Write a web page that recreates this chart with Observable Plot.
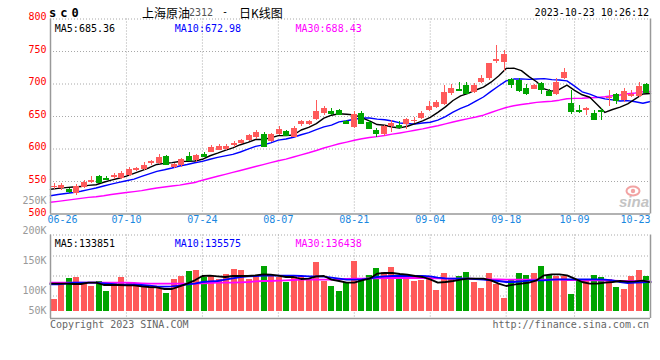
<!DOCTYPE html>
<html><head><meta charset="utf-8">
<script src="https://cdn.jsdelivr.net/npm/d3@7"></script>
<script src="https://cdn.jsdelivr.net/npm/@observablehq/plot@0.6"></script>
<style>
html,body{margin:0;padding:0;background:#fff;}
#wrap{position:relative;width:660px;height:360px;overflow:hidden;font-family:"DejaVu Sans Mono",monospace;}
#wrap svg{position:absolute;left:0;}
.t{position:absolute;white-space:pre;line-height:1;}
</style></head><body><div id="wrap"></div>
<script>
// ---- data ----
const tickIndex  = [0, 10, 20, 30, 40, 50, 60, 69, 79];
const tickLabels = ["06-26","07-10","07-24","08-07","08-21","09-04","09-18","10-09","10-23"];
const priceTicks = [800, 750, 700, 650, 600, 550, 500];
const volTicks   = [250000, 200000, 150000, 100000, 50000];
const priceLegend = ["MA5:685.36", "MA10:672.98", "MA30:688.43"];
const volLegend   = ["MA5:133851", "MA10:135575", "MA30:136438"];

const open  = [543,539,537,532,541,549,557,555,556,555,559,567,568,577,578,589,572,574,589,583,592,595,598,600,606,608,613,617,623,612,622,627,618,637,638,646,654,657,659,642,633,655,641,628,622,635,636,637,644,647,659,664,668,685,692,698,687,703,709,735,733,707,706,693,692,701,689,684,708,670,659,659,655,660,677,684,675,681,681,699];
const high  = [547,547,539,546,551,557,559,558,562,565,571,572,579,582,591,590,577,586,595,592,594,605,607,607,611,615,622,628,625,624,634,629,634,644,644,674,666,662,661,644,657,657,644,632,636,644,642,647,648,658,673,674,697,700,703,702,701,713,732,760,751,709,708,700,700,702,691,709,724,690,667,664,660,662,690,685,693,690,702,701];
const low   = [537,536,532,529,539,547,547,551,553,553,558,565,567,575,576,575,570,572,581,580,587,594,597,598,603,607,612,615,603,610,621,620,617,634,636,644,652,651,651,637,631,639,631,617,620,626,631,630,639,645,657,663,667,682,688,684,686,701,705,731,720,693,687,683,691,684,681,683,707,653,654,651,644,644,666,669,671,679,680,686];
const close = [543,544,534,542,548,552,549,553,559,562,568,570,575,581,587,576,576,584,582,590,589,603,604,604,609,613,621,626,604,622,630,621,631,642,643,658,663,654,653,639,653,640,632,624,634,639,633,645,644,655,666,672,687,693,690,686,698,709,731,737,745,700,690,685,697,691,682,703,718,657,657,663,646,658,680,675,688,684,696,687];

const ma5  = [538,539.5,540.5,541.5,542.2,544.0,545.0,548.8,552.2,555.0,558.2,562.4,566.8,571.2,576.2,577.8,579.0,580.8,581.0,581.6,584.2,589.6,593.6,598.0,601.8,606.6,610.2,614.6,614.6,617.2,620.6,620.6,621.6,629.2,633.4,639.0,647.4,652.0,654.2,653.4,652.4,647.8,643.4,637.6,636.6,633.8,632.4,635.0,639.0,643.2,648.6,656.4,664.8,674.6,681.6,685.6,690.8,695.2,702.8,712.2,724.0,724.4,720.6,711.4,703.4,692.6,689.0,691.6,698.2,690.2,683.4,679.6,668.2,656.2,660.8,664.4,669.4,677.0,684.6,685.4];
const ma10 = [528,530,531.5,533,535,537.5,540,543,546,548.6,551.1,553.7,557.8,561.7,565.6,568.0,570.7,573.8,576.1,578.9,581.0,584.3,587.2,589.5,591.7,595.4,599.9,604.1,606.3,609.5,613.6,615.4,618.1,621.9,625.3,629.8,634.0,636.8,641.7,643.4,645.7,647.6,647.7,645.9,645.0,643.1,640.1,639.2,638.3,639.9,641.2,644.4,649.9,656.8,662.4,667.1,673.6,680.0,688.7,696.9,704.8,707.6,707.9,707.1,707.8,708.3,706.7,706.1,704.8,696.8,688.0,684.3,679.9,677.2,675.5,673.9,674.5,672.6,670.4,673.0];
const ma30 = [518,519.5,521,522.5,524,525.5,526.5,528,530,531.5,533,534.5,536,538,540,541.5,543,544.5,546.5,548.5,552,555,558,561,564,567,570,573,576,579.0,581.9,584.5,587.7,591.0,594.2,597.7,601.5,604.9,608.0,610.6,613.4,615.8,617.7,619.1,620.7,622.8,624.7,626.7,628.8,630.9,633.5,635.8,638.6,641.5,644.2,646.7,649.2,652.0,656.2,660.1,663.9,666.5,668.5,669.9,671.7,672.8,673.5,675.1,677.3,677.9,678.0,678.8,679.2,680.4,681.9,683.1,684.9,686.2,688.0,688.4];

const volume = [92000,131000,144000,146000,135000,124000,137500,112000,132500,147000,134000,126000,122000,122500,120000,107000,142000,150000,162000,164000,147500,150000,142000,154000,167000,164000,142000,152000,174000,152000,147000,134000,150000,150000,142500,184000,137000,124000,112000,135000,187000,143000,152000,169000,158000,172000,142000,152000,137500,139000,149000,114000,157000,143000,150000,159000,134000,119000,157000,129000,94000,142000,157000,152000,157000,174000,152000,150000,148000,104000,142000,137000,152000,147000,142000,122000,117000,150000,164000,149000];
const vma5  = [130800,130800,130800,130000,130000,133300,133300,127500,127500,127500,126700,126700,124200,122500,121700,117500,117500,124200,130800,139200,150000,150800,149200,147500,150000,150000,150000,151700,154200,153300,150800,147500,147500,142500,143300,149200,150000,140800,137500,133300,133300,139200,143300,155800,157500,157500,155000,153300,150000,147500,141700,133300,135000,137500,140800,143300,143300,143300,139200,130800,125000,128300,130800,133300,139200,151700,154200,154200,151700,143300,135000,130800,130800,133300,135000,137500,135800,136700,138300,133900];
const vma10 = [129200,129200,130800,133300,133300,133300,133300,131700,130000,128300,128300,128300,127500,125800,124200,123300,124200,125800,129200,130800,135000,136700,137500,140800,144200,147500,149200,150000,150800,150800,150800,150800,150800,150000,149200,149200,148300,145800,143300,140800,140800,141700,143300,147500,149200,150000,150000,150000,150000,150000,149200,145800,144200,143300,143300,143300,142500,140800,139200,137500,135000,135000,136700,138300,139200,139200,140800,141700,141700,141700,141700,141700,141700,140800,139200,135000,132500,133300,134200,135600];
const vma30 = [133300,133300,133300,133300,133300,133300,133300,133300,133300,133300,133300,132500,131700,131000,130800,130800,130800,130800,130800,130800,131700,132500,133300,133300,133300,134200,135000,136700,137500,137500,138300,139200,140000,140800,140800,140800,140800,140800,141700,142500,143300,143300,144200,144200,145000,145000,145000,145000,145000,145000,144200,144200,143300,143300,143300,143300,142500,142500,141700,141700,140800,140800,140800,140800,140800,140800,140800,140800,140000,140000,139200,139200,139200,138300,138300,137500,137500,137500,136700,136400];

// ---- styling / layout ----
const RED = "#ff5a5a", GREEN = "#00a400", GRID = "#a8a8a8", BORDER = "#999999";
const MA_COLORS = ["#000000", "#0000ff", "#ff00ff"];
const LEGEND_DX = [4.3, 124.3, 245];
const N = close.length;
const gx = i => i * N / (N - 1);          // grid / MA point position
const volDomain = [43750, 252500];
const volBase = 62000;

const candles = close.map((c, i) => ({i, o: open[i], h: high[i], l: low[i], c, col: c >= open[i] ? RED : GREEN}));
const vols = volume.map((v, i) => ({i, v, col: candles[i].col}));
const gridIdx = tickIndex.slice(1, -1);

const common = {
  width: 660, marginLeft: 50, marginRight: 10,
  style: {background: "transparent", overflow: "visible", fontFamily: "'DejaVu Sans Mono', monospace", fontSize: "10px"},
  x: {domain: [0, N], axis: null},
  color: {type: "identity"}
};
const dotted = {stroke: GRID, strokeDasharray: "1,2"};
const DATE_COLOR = "#1a88e0";

const legendMarks = (labels, dy) => labels.map((t, k) =>
  Plot.text([t], {frameAnchor: "top-left", dx: LEGEND_DX[k], dy, text: d => d, textAnchor: "start", fill: MA_COLORS[k]}));

const pricePlot = Plot.plot({
  ...common,
  height: 228, marginTop: 18.5, marginBottom: 14.5,
  y: {domain: [500, 800], axis: null},
  marks: [
    Plot.ruleY(priceTicks.filter(v => v > 500), dotted),
    Plot.ruleX(gridIdx, {x: gx, ...dotted}),
    Plot.line(ma30, {x: (d, i) => gx(i), y: d => d, stroke: MA_COLORS[2], strokeWidth: 1.4}),
    Plot.line(ma10, {x: (d, i) => gx(i), y: d => d, stroke: MA_COLORS[1], strokeWidth: 1.4}),
    Plot.line(ma5,  {x: (d, i) => gx(i), y: d => d, stroke: MA_COLORS[0], strokeWidth: 1.4}),
    Plot.ruleX(candles, {x: d => d.i + 0.5, y1: "l", y2: "h", stroke: "col", shapeRendering: "crispEdges"}),
    Plot.rect(candles, {x1: d => d.i + 0.1, x2: d => d.i + 0.9, y1: "o", y2: "c", fill: "col", shapeRendering: "crispEdges"}),
    Plot.ruleY(candles, {x1: d => d.i + 0.1, x2: d => d.i + 0.9, y: "c", stroke: "col", shapeRendering: "crispEdges"}),
    Plot.ruleX([0, N], {stroke: BORDER, strokeWidth: 1.5}),
    Plot.ruleY([500], {stroke: BORDER, strokeWidth: 1.5}),
    Plot.text(priceTicks.filter(v => v > 500), {y: d => d, text: d => String(d), frameAnchor: "left", dx: -4, dy: -2, textAnchor: "end", fill: "#ff0000"}),
    Plot.text([500], {y: d => d, text: d => String(d), frameAnchor: "left", dx: -4, dy: -1, textAnchor: "end", fill: "#ff0000"}),
    Plot.text(tickIndex.slice(0, 1), {x: gx, text: () => tickLabels[0], frameAnchor: "bottom", dy: 9, dx: -3, textAnchor: "start", fill: DATE_COLOR}),
    Plot.text(tickIndex.slice(1, -1), {x: gx, text: (d, k) => tickLabels[k + 1], frameAnchor: "bottom", dy: 9, fill: DATE_COLOR}),
    Plot.text(tickIndex.slice(-1), {x: gx, text: () => tickLabels[tickLabels.length - 1], frameAnchor: "bottom", dy: 9, textAnchor: "end", fill: DATE_COLOR}),
    ...legendMarks(priceLegend, 5.5)
  ]
});

const volPlot = Plot.plot({
  ...common,
  height: 132, marginTop: 6.5, marginBottom: 42,
  y: {domain: volDomain, axis: null},
  marks: [
    Plot.ruleY([100000, 150000, 200000, volDomain[1]], dotted),
    Plot.ruleX(gridIdx, {x: gx, ...dotted}),
    Plot.rect(vols, {x1: d => d.i + 0.1, x2: d => d.i + 0.9, y1: volBase, y2: "v", fill: "col", shapeRendering: "crispEdges"}),
    Plot.line(vma30, {x: (d, i) => gx(i), y: d => d, stroke: MA_COLORS[2], strokeWidth: 1.8}),
    Plot.line(vma10, {x: (d, i) => gx(i), y: d => d, stroke: MA_COLORS[1], strokeWidth: 1.8}),
    Plot.line(vma5,  {x: (d, i) => gx(i), y: d => d, stroke: MA_COLORS[0], strokeWidth: 1.8}),
    Plot.ruleX([0, N], {stroke: BORDER, strokeWidth: 1.5}),
    Plot.ruleY([volDomain[0]], {stroke: BORDER, strokeWidth: 1.5}),
    Plot.text(volTicks, {y: d => Math.max(d * 1.5 - 37500, volBase), text: d => d / 1000 + "K", frameAnchor: "left", dx: -4, textAnchor: "end", fill: "#999999"}),
    ...legendMarks(volLegend, 4.5)
  ]
});

const wrap = document.getElementById("wrap");
pricePlot.style.top = "0px";
volPlot.style.top = "228px";
wrap.appendChild(pricePlot);
wrap.appendChild(volPlot);

function addText(txt, css) {
  const el = document.createElement("div");
  el.className = "t";
  el.textContent = txt;
  el.style.cssText += css;
  wrap.appendChild(el);
  return el;
}
addText("sc0", "left:49px;top:6px;font:bold 12px 'DejaVu Sans Mono',monospace;letter-spacing:4px;color:#000;");
addText("上海原油", "left:142px;top:4px;font:12px 'Noto Sans CJK SC',sans-serif;color:#000;");
addText("2312", "left:189px;top:6.5px;font:10px 'DejaVu Sans Mono',monospace;color:#555;");
addText("-", "left:222px;top:6px;font:10px 'DejaVu Sans Mono',monospace;color:#000;");
addText("日K线图", "left:239px;top:4px;font:12px 'Noto Sans CJK SC',sans-serif;color:#000;");
addText("2023-10-23 10:26:12", "right:11px;top:7px;font:10px 'DejaVu Sans Mono',monospace;color:#000;");
addText("Copyright 2023 SINA.COM", "left:50px;top:318.5px;font:10px 'DejaVu Sans Mono',monospace;color:#666;");
addText("http://finance.sina.com.cn", "right:11px;top:318.5px;font:10px 'DejaVu Sans Mono',monospace;color:#666;");
addText("sina", "left:619px;top:193px;font:italic bold 15px 'Liberation Sans',sans-serif;color:#c4c4c4;");
// faint logo eye
const ns = "http://www.w3.org/2000/svg";
const eye = document.createElementNS(ns, "svg");
eye.setAttribute("width", "20"); eye.setAttribute("height", "14");
eye.style.cssText = "position:absolute;left:624px;top:184px;";
eye.innerHTML = '<ellipse cx="9" cy="7" rx="6.5" ry="4.5" fill="none" stroke="#f2a3a3" stroke-width="2"/><circle cx="9" cy="7" r="2.2" fill="#f2a3a3"/>';
wrap.appendChild(eye);
</script></body></html>
